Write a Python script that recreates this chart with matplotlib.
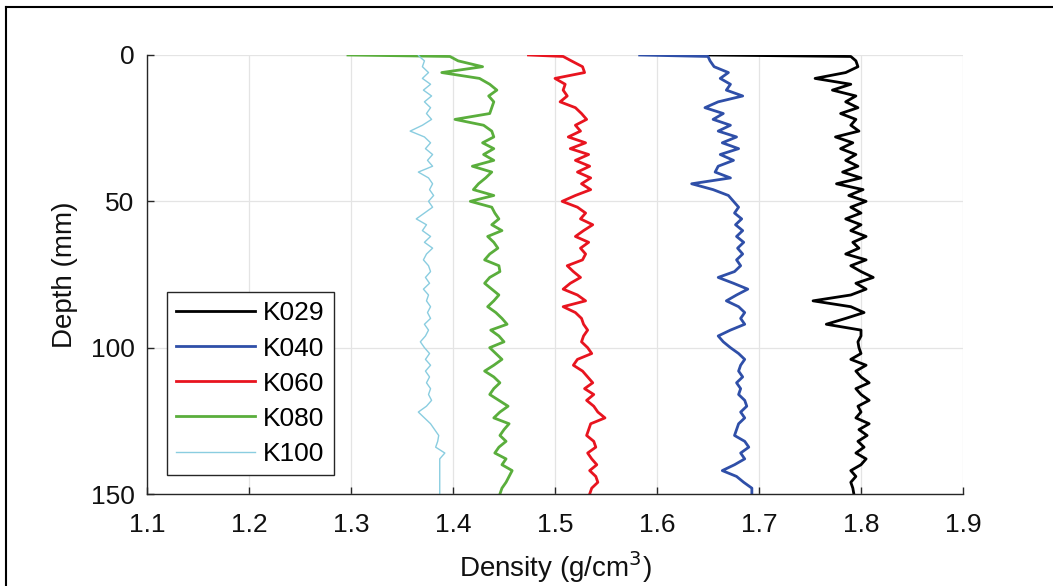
import matplotlib
matplotlib.use('Agg')
import matplotlib.pyplot as plt
from matplotlib.lines import Line2D

plt.rcParams['font.family'] = ['Liberation Sans', 'DejaVu Sans']

# depth (mm) sampling points, shared by all cores
depth = [0, 0.5, 2, 4, 6, 8, 10, 12, 14, 16, 18, 20, 22, 24, 26, 28, 30,
         32, 34, 36, 38, 40, 42, 44, 46, 48, 50, 52, 54, 56, 58, 60, 62, 64,
         66, 68, 70, 72, 74, 76, 78, 80, 82, 84, 86, 88, 90, 92, 94, 96, 98,
         100, 102, 104, 106, 108, 110, 112, 114, 116, 118, 120, 122, 124, 126,
         128, 130, 132, 134, 136, 138, 140, 142, 144, 146, 148, 150]

# density (g/cm3)
k029 = [1.650, 1.790, 1.795, 1.797, 1.785, 1.755, 1.790, 1.772, 1.795, 1.785,
        1.797, 1.780, 1.795, 1.790, 1.798, 1.775, 1.792, 1.780, 1.795, 1.785,
        1.797, 1.782, 1.800, 1.776, 1.802, 1.788, 1.805, 1.790, 1.800, 1.785,
        1.800, 1.790, 1.805, 1.792, 1.798, 1.785, 1.805, 1.790, 1.800, 1.812,
        1.795, 1.805, 1.790, 1.753, 1.790, 1.803, 1.785, 1.766, 1.800, 1.800,
        1.797, 1.798, 1.800, 1.790, 1.805, 1.795, 1.800, 1.808, 1.795, 1.800,
        1.808, 1.797, 1.800, 1.795, 1.808, 1.798, 1.806, 1.797, 1.803, 1.795,
        1.805, 1.800, 1.790, 1.795, 1.790, 1.792, 1.793]
k040 = [1.583, 1.650, 1.652, 1.656, 1.670, 1.662, 1.672, 1.668, 1.684, 1.660,
        1.647, 1.665, 1.655, 1.672, 1.660, 1.678, 1.664, 1.680, 1.662, 1.675,
        1.660, 1.657, 1.672, 1.634, 1.655, 1.670, 1.675, 1.680, 1.676, 1.683,
        1.677, 1.684, 1.678, 1.685, 1.679, 1.684, 1.678, 1.682, 1.676, 1.660,
        1.675, 1.689, 1.678, 1.668, 1.680, 1.686, 1.682, 1.686, 1.672, 1.660,
        1.665, 1.672, 1.680, 1.686, 1.682, 1.680, 1.684, 1.678, 1.682, 1.680,
        1.686, 1.688, 1.682, 1.686, 1.680, 1.678, 1.676, 1.686, 1.690, 1.682,
        1.686, 1.676, 1.664, 1.678, 1.685, 1.693, 1.693]
k060 = [1.474, 1.508, 1.516, 1.527, 1.529, 1.500, 1.510, 1.508, 1.512, 1.505,
        1.520, 1.526, 1.531, 1.520, 1.525, 1.513, 1.530, 1.515, 1.533, 1.520,
        1.534, 1.522, 1.535, 1.526, 1.535, 1.520, 1.507, 1.522, 1.530, 1.525,
        1.537, 1.528, 1.520, 1.533, 1.525, 1.530, 1.527, 1.512, 1.518, 1.525,
        1.515, 1.508, 1.522, 1.530, 1.508, 1.520, 1.526, 1.528, 1.532, 1.528,
        1.526, 1.532, 1.536, 1.522, 1.518, 1.527, 1.532, 1.537, 1.529, 1.538,
        1.531, 1.538, 1.542, 1.549, 1.535, 1.533, 1.531, 1.538, 1.540, 1.532,
        1.536, 1.541, 1.534, 1.540, 1.542, 1.536, 1.534]
k080 = [1.297, 1.397, 1.405, 1.429, 1.389, 1.426, 1.436, 1.443, 1.435, 1.440,
        1.438, 1.436, 1.402, 1.430, 1.438, 1.440, 1.429, 1.440, 1.430, 1.440,
        1.419, 1.438, 1.432, 1.425, 1.420, 1.440, 1.417, 1.438, 1.441, 1.445,
        1.438, 1.448, 1.434, 1.440, 1.444, 1.436, 1.431, 1.445, 1.446, 1.436,
        1.431, 1.438, 1.445, 1.440, 1.434, 1.442, 1.448, 1.453, 1.437, 1.445,
        1.450, 1.436, 1.442, 1.448, 1.440, 1.431, 1.440, 1.446, 1.440, 1.436,
        1.445, 1.454, 1.446, 1.440, 1.455, 1.450, 1.446, 1.452, 1.445, 1.441,
        1.452, 1.448, 1.458, 1.455, 1.452, 1.448, 1.446]
k100 = [1.366, 1.367, 1.372, 1.370, 1.376, 1.370, 1.378, 1.371, 1.379, 1.372,
        1.378, 1.374, 1.379, 1.370, 1.358, 1.372, 1.378, 1.373, 1.380, 1.375,
        1.380, 1.366, 1.376, 1.380, 1.377, 1.381, 1.376, 1.380, 1.372, 1.364,
        1.374, 1.370, 1.378, 1.372, 1.380, 1.374, 1.371, 1.376, 1.378, 1.373,
        1.377, 1.371, 1.376, 1.374, 1.378, 1.375, 1.378, 1.372, 1.376, 1.373,
        1.368, 1.372, 1.377, 1.373, 1.378, 1.373, 1.377, 1.374, 1.378, 1.376,
        1.379, 1.374, 1.366, 1.372, 1.378, 1.382, 1.386, 1.385, 1.383, 1.392,
        1.387, 1.387, 1.387, 1.387, 1.387, 1.387, 1.387]

names = ['K029', 'K040', 'K060', 'K080', 'K100']
colors = ['#000000', '#2f4fa8', '#e8141f', '#5aae3c', '#8acde0']
widths = [2.0, 2.0, 2.0, 2.0, 1.0]

fig = plt.figure(figsize=(10.53, 5.86), dpi=100)
ax = fig.add_axes([147 / 1053, 1 - 494 / 586, 816 / 1053, 439 / 586])

for vals, name, c, lw in zip([k029, k040, k060, k080, k100], names, colors, widths):
    ax.plot(vals, depth, color=c, lw=lw, label=name)

ax.set_xlim(1.1, 1.9)
ax.set_ylim(150, 0)
ax.set_xticks([1.1, 1.2, 1.3, 1.4, 1.5, 1.6, 1.7, 1.8, 1.9])
ax.set_yticks([0, 50, 100, 150])
ax.grid(True, color='#e4e4e4', lw=0.9)
ax.set_axisbelow(True)
for s in ['top', 'right']:
    ax.spines[s].set_visible(False)
for s in ['left', 'bottom']:
    ax.spines[s].set_color('#262626')
    ax.spines[s].set_linewidth(1.0)
ax.tick_params(direction='in', length=5, width=1, colors='#262626',
               labelsize=19, labelcolor='#111111')
ax.tick_params(axis='x', pad=14)
ax.tick_params(axis='y', pad=9)

ax.set_xlabel('Density (g/cm$^3$)', fontsize=20, color='#111111')
ax.set_ylabel('Depth (mm)', fontsize=20, color='#111111')
ax.xaxis.set_label_coords(0.5, -(567 - 494) / 439, transform=ax.transAxes)
ax.xaxis.label.set_va('center')
ax.yaxis.set_label_coords(-(147 - 65) / 816, 0.5, transform=ax.transAxes)
ax.yaxis.label.set_va('center')

leg = ax.legend(loc='lower left', bbox_to_anchor=(20 / 816, 19 / 439),
                fontsize=19, handlelength=3.0, handletextpad=0.3,
                labelspacing=0.42, borderpad=0.35, borderaxespad=0,
                fancybox=False, framealpha=1, edgecolor='#262626')
leg.get_frame().set_linewidth(1.0)

# outer border of the original figure
fig.add_artist(Line2D([6 / 1053, 1], [1 - 7 / 586, 1 - 7 / 586], color='black', lw=1.5))
fig.add_artist(Line2D([6 / 1053, 6 / 1053], [0, 1 - 7 / 586], color='black', lw=1.5))

plt.savefig('out.png', dpi=100)
